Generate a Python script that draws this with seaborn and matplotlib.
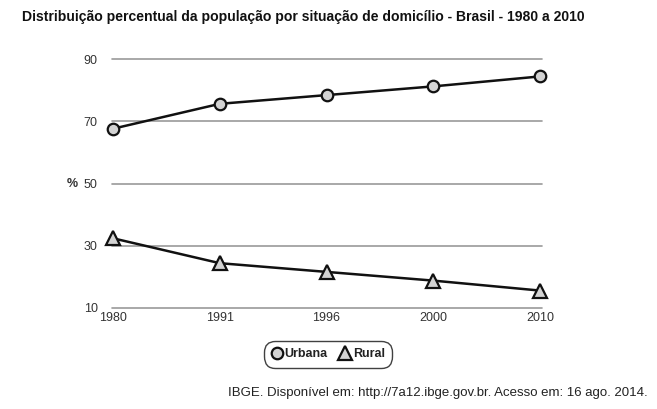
import matplotlib
matplotlib.use("Agg")
import matplotlib.pyplot as plt
import seaborn as sns
import pandas as pd

anos = ["1980", "1991", "1996", "2000", "2010"]
urbana = [67.6, 75.6, 78.4, 81.2, 84.4]
rural = [32.4, 24.4, 21.6, 18.8, 15.6]
yticks = [10, 30, 50, 70, 90]

sns.set_style("white")
plt.rcParams['font.family'] = ['Liberation Sans', 'DejaVu Sans']

df = pd.DataFrame({"pos": list(range(len(anos))) * 2,
                   "valor": urbana + rural,
                   "serie": ["Urbana"] * len(anos) + ["Rural"] * len(anos)})

fig = plt.figure(figsize=(6.57, 4.09), dpi=100)
W, H = 657, 409
ax = fig.add_axes([113 / W, 1 - 308 / H, (540 - 113) / W, (308 - 59) / H])

for y in yticks:
    ax.axhline(y, color="#9a9a9a", lw=1.2, zorder=1, xmin=-0.003, xmax=1.005, clip_on=False)

sns.lineplot(data=df, x="pos", y="valor", hue="serie", style="serie",
             markers={"Urbana": "o", "Rural": "^"}, dashes=False,
             palette={"Urbana": "#111111", "Rural": "#111111"},
             ax=ax, legend=False, lw=1.8, markersize=9,
             markerfacecolor="#d3d3d3", markeredgecolor="#111111", markeredgewidth=1.6,
             clip_on=False, zorder=3)
for line in ax.get_lines():
    if line.get_marker() == "^":
        line.set_markersize(10.5)
    elif line.get_marker() == "o":
        line.set_markersize(8.3)

ax.set_xlim(0, len(anos) - 1)
ax.set_ylim(10, 90)
ax.set_xticks(range(len(anos)))
ax.set_xticklabels(anos)
ax.set_yticks(yticks)
ax.set_yticklabels([str(v) for v in yticks])
ax.tick_params(axis="both", length=0, labelsize=9, labelcolor="#333333")
ax.tick_params(axis="y", pad=11)
ax.tick_params(axis="x", pad=3)
ax.set_xlabel("")
ax.set_ylabel("")
for s in ax.spines.values():
    s.set_visible(False)

fig.text(67 / W, 1 - 184 / H, "%", fontsize=9, fontweight="bold", color="#333333",
         ha="left", va="center")

fig.text(22 / W, 1 - 17 / H,
         "Distribuição percentual da população por situação de domicílio - Brasil - 1980 a 2010",
         fontsize=10.1, fontweight="bold", color="#111111", ha="left", va="center")

fig.text(648 / W, 1 - 393 / H,
         "IBGE. Disponível em: http://7a12.ibge.gov.br. Acesso em: 16 ago. 2014.",
         fontsize=9.5, color="#222222", ha="right", va="center")

from matplotlib.lines import Line2D
handles = [Line2D([], [], marker="o", ls="none", markersize=8.3, markerfacecolor="#d3d3d3",
                  markeredgecolor="#111111", markeredgewidth=1.6),
           Line2D([], [], marker="^", ls="none", markersize=10, markerfacecolor="#d3d3d3",
                  markeredgecolor="#111111", markeredgewidth=1.6)]
leg = fig.legend(handles, ["Urbana", "Rural"], loc="center", bbox_to_anchor=(328 / W, 1 - 354 / H),
                 ncol=2, frameon=True, fancybox=True, handlelength=0.9, handletextpad=0.15,
                 columnspacing=1.0, borderpad=0.35, prop={"weight": "bold", "size": 9},
                 edgecolor="#111111")
leg.get_frame().set_linewidth(1.0)
leg.get_frame().set_boxstyle("round,pad=0.25,rounding_size=0.9")
for t in leg.get_texts():
    t.set_color("#222222")

fig.savefig("out.png", dpi=100, facecolor="white")
